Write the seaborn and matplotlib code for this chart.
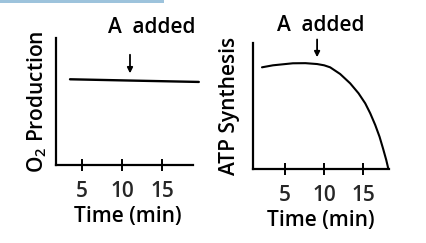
import matplotlib
matplotlib.use("Agg")
import matplotlib.pyplot as plt
from matplotlib.patches import Rectangle
import seaborn as sns
import pandas as pd

# ---- data ----
xticks = [5, 10, 15]
xtick_labels = ["5", "10", "15"]

o2_time = [3.5, 11.0, 19.6]
o2_prod = [67.5, 66.5, 65.4]

atp_time = [2.05, 3.46, 6.0, 7.6, 9.1, 10.0, 10.77, 12.05, 13.33, 14.4,
            15.26, 15.9, 16.54, 17.09, 17.53, 17.95, 18.22]
atp_synth = [80.7, 82.3, 83.9, 84.0, 83.3, 82.3, 80.7, 75.4, 68.0, 60.1,
             52.1, 44.2, 34.9, 25.6, 16.4, 7.1, 0.0]

left_arrow_x = 11.0
right_arrow_x = 9.1
annot_text = "A  added"
xlabel = "Time (min)"
left_ylabel = r"O$_\mathregular{2}$ Production"
right_ylabel = "ATP Synthesis"

sns.set_theme(style="white")
plt.rcParams["font.family"] = ["Open Sans", "DejaVu Sans"]
plt.rcParams["font.weight"] = "semibold"
plt.rcParams["axes.labelweight"] = "semibold"
plt.rcParams["mathtext.fontset"] = "custom"
plt.rcParams["mathtext.rm"] = "Open Sans:semibold"

W, H = 427, 243
fig = plt.figure(figsize=(W / 100, H / 100), dpi=100)
fig.patch.set_facecolor("white")

def ax_rect(x0, x1, ytop, ybot):
    return [x0 / W, 1 - ybot / H, (x1 - x0) / W, (ybot - ytop) / H]

axL = fig.add_axes(ax_rect(56, 200, 38, 165))
axR = fig.add_axes(ax_rect(253, 389, 43, 169))

fs = 15
lw_sp = 1.6

df_l = pd.DataFrame({"t": o2_time, "v": o2_prod})
df_r = pd.DataFrame({"t": atp_time, "v": atp_synth})

sns.lineplot(data=df_l, x="t", y="v", ax=axL, color="black", lw=1.7, clip_on=False)
sns.lineplot(data=df_r, x="t", y="v", ax=axR, color="black", lw=1.5, clip_on=False)

axL.set_xlim(1.75, 19.75)
axL.spines["bottom"].set_bounds(1.75, 18.9)
axR.set_xlim(0.9, 18.3)

for ax, ylab, lp in ((axL, left_ylabel, 5), (axR, right_ylabel, 9)):
    ax.set_ylim(0, 100)
    ax.set_facecolor("none")
    for s in ("top", "right"):
        ax.spines[s].set_visible(False)
    for s in ("left", "bottom"):
        ax.spines[s].set_color("black")
        ax.spines[s].set_linewidth(lw_sp)
    ax.set_yticks([])
    ax.set_xticks(xticks)
    ax.set_xticklabels(xtick_labels)
    ax.tick_params(axis="x", direction="inout", length=9, width=1.4,
                   color="black", labelsize=fs, pad=7, bottom=True)
    ax.set_xlabel(xlabel, fontsize=fs, labelpad=3, color="black")
    ax.set_ylabel(ylab, fontsize=fs, labelpad=lp, color="black")

axL.annotate("", xy=(left_arrow_x, 70), xytext=(left_arrow_x, 89),
             arrowprops=dict(arrowstyle="-|>", color="black", lw=1.3,
                             mutation_scale=8), annotation_clip=False)
axL.text(13.75, 104, annot_text, fontsize=fs, ha="center", va="baseline",
         color="black", clip_on=False)

axR.annotate("", xy=(right_arrow_x, 86.5), xytext=(right_arrow_x, 105),
             arrowprops=dict(arrowstyle="-|>", color="black", lw=1.3,
                             mutation_scale=8), annotation_clip=False)
axR.text(9.6, 109.5, annot_text, fontsize=fs, ha="center", va="baseline",
         color="black", clip_on=False)

fig.patches.append(Rectangle((0, 1 - 3.5 / H), 164 / W, 3.5 / H,
                             transform=fig.transFigure, facecolor="#9dc3dc",
                             edgecolor="none"))

fig.savefig("out.png", dpi=100)
